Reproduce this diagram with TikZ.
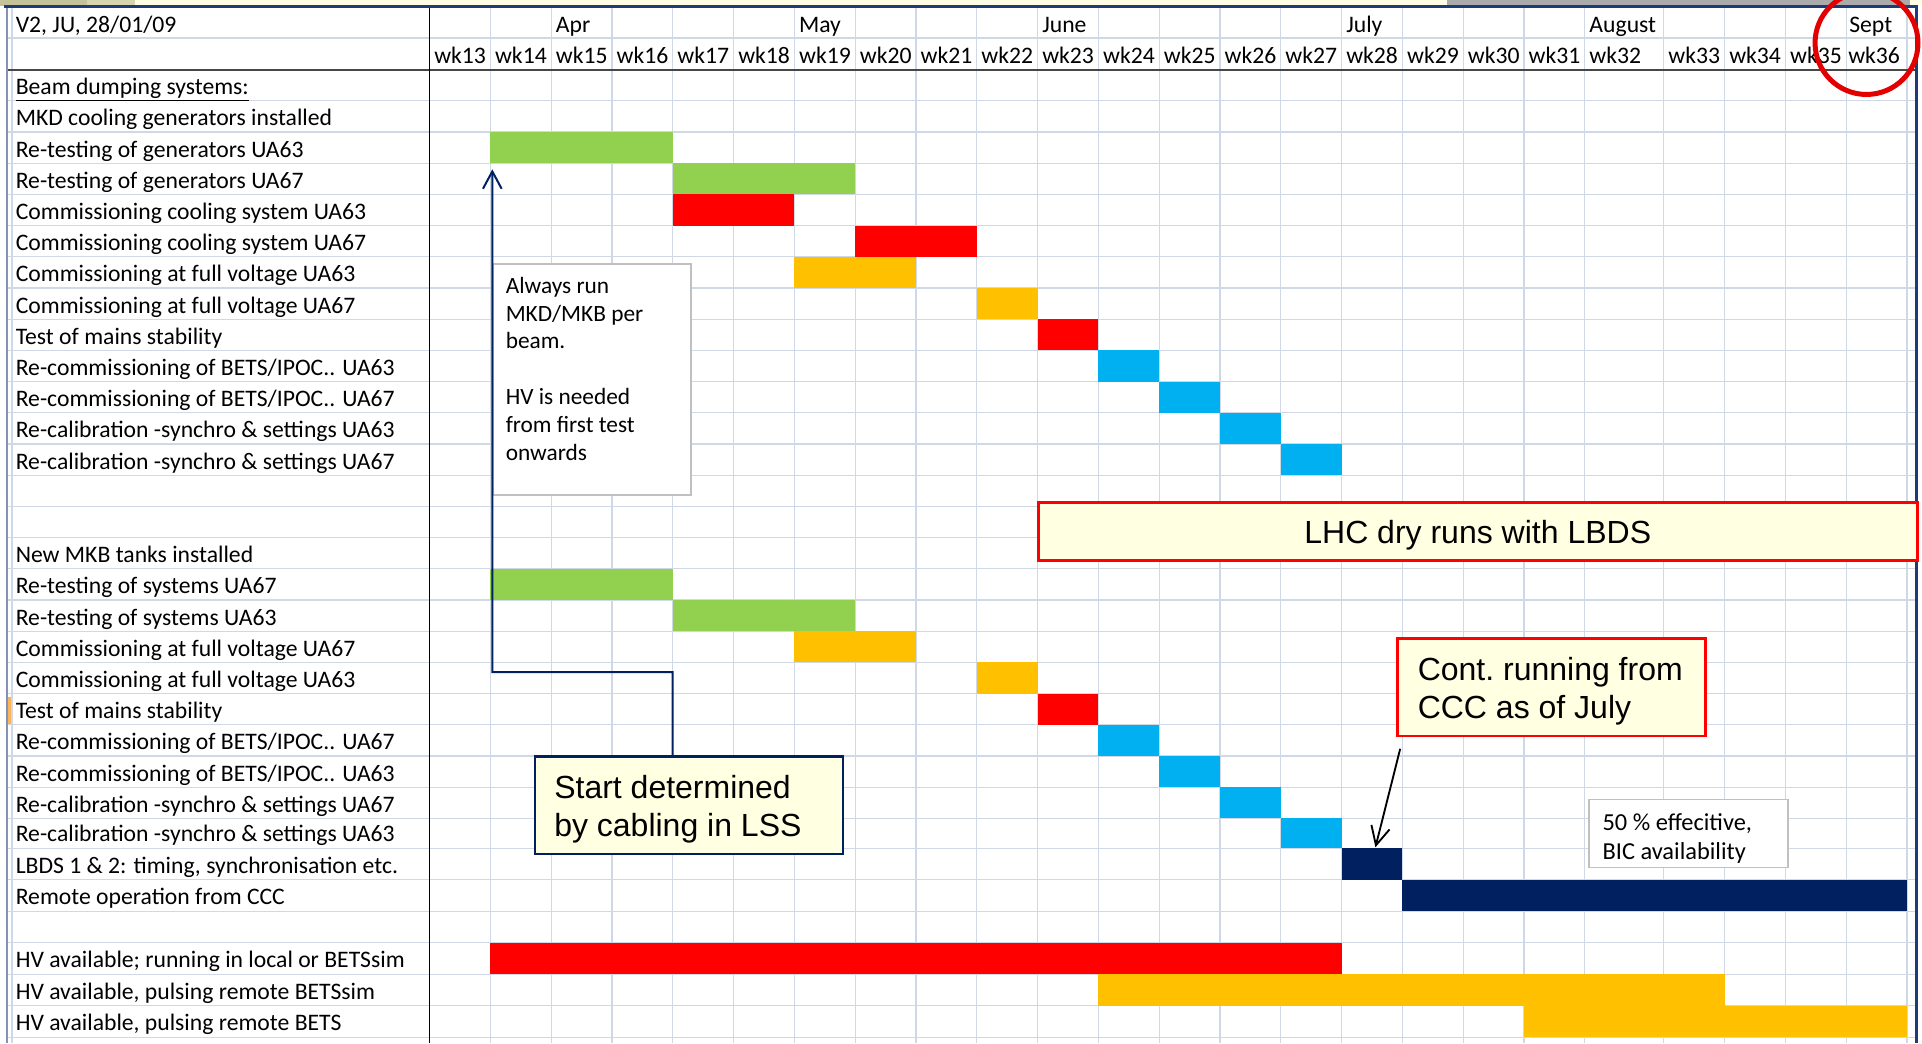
\documentclass[tikz,border=0pt]{standalone}
\usepackage{fontspec}
\setmainfont{Carlito}
\newfontfamily\arialf{Liberation Sans}
\usetikzlibrary{arrows.meta,calc}
\definecolor{gridc}{HTML}{D0D7E5}
\definecolor{gbar}{HTML}{92D050}
\definecolor{rbar}{HTML}{FF0000}
\definecolor{obar}{HTML}{FFC000}
\definecolor{cbar}{HTML}{00B0F0}
\definecolor{nbar}{HTML}{002060}
\definecolor{lyel}{HTML}{FFFFE1}
\definecolor{framec}{HTML}{1F3A78}
\definecolor{boxgray}{HTML}{C0C0C0}
\definecolor{circred}{HTML}{E30000}
\tikzset{
  lbl/.style={anchor=base west, inner sep=0pt, font=\fontsize{17.75}{21}\selectfont, text=black},
  gridl/.style={draw=gridc, line width=0.9pt},
  calloutbox/.style={fill=lyel, inner sep=0pt},
  callouttxt/.style={anchor=north west, inner sep=0pt, align=left, font=\arialf\frenchspacing\fontsize{24}{28.9}\selectfont},
  notebox/.style={draw=boxgray, line width=1.1pt, fill=white, inner sep=0pt},
  notetxt/.style={anchor=north west, inner sep=0pt, align=left},
}
\begin{document}
\begin{tikzpicture}[x=0.75pt,y=-0.75pt]
\useasboundingbox (0,0) rectangle (1922,1043);
\clip (0,0) rectangle (1922,1043);
\fill[white] (0,0) rectangle (1922,1043);
% top strip
\fill[fill={rgb,255:red,197;green,194;blue,154}] (0,0) rectangle (87,5.5);
\fill[fill={rgb,255:red,215;green,212;blue,174}] (87,0) rectangle (135,5.5);
\fill[fill={rgb,255:red,255;green,254;blue,228}] (135,0) rectangle (1447,5.5);
\fill[fill={rgb,255:red,171;green,171;blue,171}] (1447,0) rectangle (1910,5.5);
\fill[fill={rgb,255:red,255;green,254;blue,228}] (1910,0) rectangle (1922,5.5);
% grid lines
\foreach \y in {38,100.7,131.9,163.1,194.3,225.5,256.7,287.9,319.1,350.3,381.5,412.7,443.9,475.1,506.3,537.5,568.7,599.9,631.1,662.3,693.5,724.7,755.9,787.1,818.3,848.3,879.8,911.3,942.8,974.3,1005.8,1037.3}
  \draw[gridl] (7,\y) -- (1917,\y);
\foreach \x in {490.3,551.1,611.9,672.7,733.5,794.3,855.1,915.9,976.7,1037.5,1098.3,1159.1,1219.9,1280.7,1341.5,1402.3,1463.1,1523.9,1584.7,1663.7,1724.5,1785.3,1846.1,1906.9}
  \draw[gridl] (\x,7) -- (\x,1043);
\draw[gridl] (12,7) -- (12,1043);
% bars
\fill[gbar] (490.3,131.9) rectangle (672.7,163.1);
\fill[gbar] (672.7,163.1) rectangle (855.1,194.3);
\fill[rbar] (672.7,194.3) rectangle (794.3,225.5);
\fill[rbar] (855.1,225.5) rectangle (976.7,256.7);
\fill[obar] (794.3,256.7) rectangle (915.9,287.9);
\fill[obar] (976.7,287.9) rectangle (1037.5,319.1);
\fill[rbar] (1037.5,319.1) rectangle (1098.3,350.3);
\fill[cbar] (1098.3,350.3) rectangle (1159.1,381.5);
\fill[cbar] (1159.1,381.5) rectangle (1219.9,412.7);
\fill[cbar] (1219.9,412.7) rectangle (1280.7,443.9);
\fill[cbar] (1280.7,443.9) rectangle (1341.5,475.1);
\fill[gbar] (490.3,568.7) rectangle (672.7,599.9);
\fill[gbar] (672.7,599.9) rectangle (855.1,631.1);
\fill[obar] (794.3,631.1) rectangle (915.9,662.3);
\fill[obar] (976.7,662.3) rectangle (1037.5,693.5);
\fill[rbar] (1037.5,693.5) rectangle (1098.3,724.7);
\fill[cbar] (1098.3,724.7) rectangle (1159.1,755.9);
\fill[cbar] (1159.1,755.9) rectangle (1219.9,787.1);
\fill[cbar] (1219.9,787.1) rectangle (1280.7,818.3);
\fill[cbar] (1280.7,818.3) rectangle (1341.5,848.3);
\fill[nbar] (1341.5,848.3) rectangle (1402.3,879.8);
\fill[nbar] (1402.3,879.8) rectangle (1906.9,911.3);
\fill[rbar] (490.3,942.8) rectangle (1341.5,974.3);
\fill[obar] (1098.3,974.3) rectangle (1724.5,1005.8);
\fill[obar] (1523.9,1005.8) rectangle (1906.9,1037.3);
% frame lines
\draw[line width=1.5pt, draw=black!72] (7,69.5) -- (1917,69.5);
\draw[line width=1.1pt, draw=black] (429.5,7) -- (429.5,1043);
\draw[line width=1pt, draw=framec!55] (7,6.5) -- (7,1043);
\draw[line width=1.6pt, draw=framec] (4,6.5) -- (1916.5,6.5) -- (1916.5,1043);
\fill[fill={rgb,255:red,250;green,180;blue,90}] (7.5,697) rectangle (11,724);
% header texts
\node[lbl] (hdr) at (15.5,32) {V2, JU, 28/01/09};
\node[lbl] (mApr) at (555.6,32) {Apr};
\node[lbl] (mMay) at (798.8,32) {May};
\node[lbl] (mJun) at (1042,32) {June};
\node[lbl] (mJul) at (1346,32) {July};
\node[lbl] (mAug) at (1589.2,32) {August};
\node[lbl] (mSep) at (1849,32) {Sept};
\foreach \x/\w in {429.5/13,490.3/14,551.1/15,611.9/16,672.7/17,733.5/18,794.3/19,855.1/20,915.9/21,976.7/22,1037.5/23,1098.3/24,1159.1/25,1219.9/26,1280.7/27,1341.5/28,1402.3/29,1463.1/30,1523.9/31,1584.7/32,1663.7/33,1724.5/34,1785.3/35,1843.5/36}
  \node[lbl] (wk\w) at (\x+4.5,63.5) {wk\w};
% row labels
\node[lbl] (r0) at (15.5,94.7) {\underline{Beam dumping systems:}};
\node[lbl] (r1) at (15.5,125.9) {MKD cooling generators installed};
\node[lbl] (r2) at (15.5,157.1) {Re-testing of generators UA63};
\node[lbl] (r3) at (15.5,188.3) {Re-testing of generators UA67};
\node[lbl] (r4) at (15.5,219.5) {Commissioning cooling system UA63};
\node[lbl] (r5) at (15.5,250.7) {Commissioning cooling system UA67};
\node[lbl] (r6) at (15.5,281.9) {Commissioning at full voltage UA63};
\node[lbl] (r7) at (15.5,313.1) {Commissioning at full voltage UA67};
\node[lbl] (r8) at (15.5,344.3) {Test of mains stability};
\node[lbl] (r9) at (15.5,375.5) {Re-commissioning of BETS/IPOC.. UA63};
\node[lbl] (r10) at (15.5,406.7) {Re-commissioning of BETS/IPOC.. UA67};
\node[lbl] (r11) at (15.5,437.9) {Re-calibration -synchro \& settings UA63};
\node[lbl] (r12) at (15.5,469.1) {Re-calibration -synchro \& settings UA67};
\node[lbl] (r15) at (15.5,562.7) {New MKB tanks installed};
\node[lbl] (r16) at (15.5,593.9) {Re-testing of systems UA67};
\node[lbl] (r17) at (15.5,625.1) {Re-testing of systems UA63};
\node[lbl] (r18) at (15.5,656.3) {Commissioning at full voltage UA67};
\node[lbl] (r19) at (15.5,687.5) {Commissioning at full voltage UA63};
\node[lbl] (r20) at (15.5,718.7) {Test of mains stability};
\node[lbl] (r21) at (15.5,749.9) {Re-commissioning of BETS/IPOC.. UA67};
\node[lbl] (r22) at (15.5,781.1) {Re-commissioning of BETS/IPOC.. UA63};
\node[lbl] (r23) at (15.5,812.3) {Re-calibration -synchro \& settings UA67};
\node[lbl] (r24) at (15.5,841.8) {Re-calibration -synchro \& settings UA63};
\node[lbl] (r25) at (15.5,873.3) {LBDS 1 \& 2: timing, synchronisation etc.};
\node[lbl] (r26) at (15.5,904.8) {Remote operation from CCC};
\node[lbl] (r28) at (15.5,967.8) {HV available; running in local or BETSsim};
\node[lbl] (r29) at (15.5,999.3) {HV available, pulsing remote BETSsim};
\node[lbl] (r30) at (15.5,1030.5) {HV available, pulsing remote BETS};
% note: always run
\node[notebox, minimum width=148.5pt, minimum height=173.25pt] (alwaysbox) at (592,379.5) {};
\node[notetxt, font=\fontsize{17.5}{20.85}\selectfont] (alwaystxt) at (505.5,273) {\rule{0pt}{15pt}Always run\\MKD/MKB per\\beam.\\~\\HV is needed\\from first test\\onwards};
% start determined callout
\node[calloutbox, draw=nbar, line width=1.6pt, minimum width=231.3pt, minimum height=73.3pt] (start) at (689.2,805.35) {};
\node[callouttxt, font=\arialf\frenchspacing\fontsize{24}{28.5}\selectfont] (starttxt) at (554,774.5) {\rule{0pt}{18pt}Start determined\\by cabling in LSS};
\coordinate (bendA) at (672.7,672);
\coordinate (tipA) at (492.3,169.3);
\draw[nbar, line width=1.5pt, -{Straight Barb[length=13pt,width=14pt]}] ($(start.north west)!0.4465!(start.north east)$) -- (bendA) -| (tipA);
% LHC dry runs
\node[calloutbox, draw=rbar, line width=2.2pt, minimum width=659.3pt, minimum height=43.5pt, text height=17.2pt, text depth=0pt, font=\arialf\fontsize{24}{28}\selectfont] (lhc) at (1477.75,531.7) {LHC dry runs with LBDS};
% cont running
\node[calloutbox, draw=rbar, line width=2.2pt, minimum width=231pt, minimum height=73pt] (cont) at (1551.55,687.35) {};
\node[callouttxt] (conttxt) at (1417.5,656) {\rule{0pt}{18pt}Cont. running from\\CCC as of July};
\coordinate (tipB) at (1375.4,847.3);
\draw[black, line width=1.4pt, -{Straight Barb[length=14pt,width=14pt]}] ($(cont.south west)+(4.1,11.3)$) -- (tipB);
% 50 % note
\node[notebox, minimum width=149.3pt, minimum height=51pt] (effbox) at (1688.35,833.3) {};
\node[notetxt, font=\fontsize{18.3}{21.75}\selectfont] (efftxt) at (1602.3,810) {\rule{0pt}{15pt}50 \% effecitive,\\BIC availability};
% red circle
\draw[circred, line width=3.75pt] (1866.5,43) circle[radius=38.6pt];
\end{tikzpicture}
\end{document}
